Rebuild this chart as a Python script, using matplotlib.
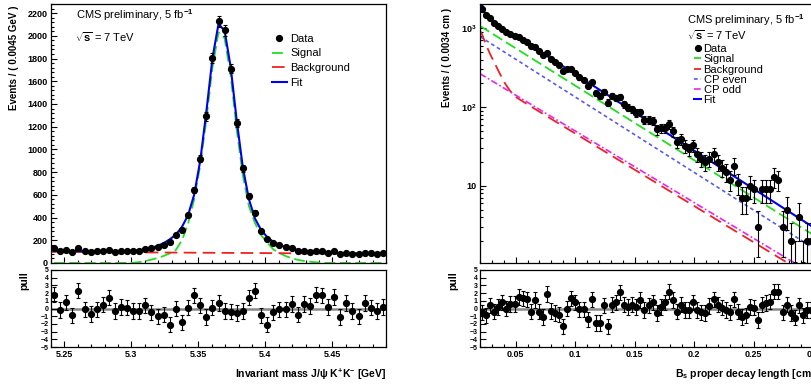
import numpy as np
import matplotlib
matplotlib.use('Agg')
import matplotlib.pyplot as plt
from matplotlib.ticker import MultipleLocator, FixedLocator, FixedFormatter, LogLocator, NullFormatter, FuncFormatter

plt.rcParams['font.family'] = ['Liberation Sans', 'DejaVu Sans']
plt.rcParams['font.weight'] = 'bold'
plt.rcParams['mathtext.fontset'] = 'custom'
plt.rcParams['mathtext.rm'] = 'Liberation Sans'
plt.rcParams['mathtext.it'] = 'Liberation Sans:italic'
plt.rcParams['mathtext.bf'] = 'Liberation Sans:bold'

# ---- invariant mass fit (left) ----
mass_range = (5.24, 5.49)
mass_counts = [130, 107, 113, 95, 128, 103, 97, 103, 109, 118,
               101, 106, 107, 107, 110, 122, 128, 142, 162, 183,
               249, 287, 423, 641, 918, 1290, 1806, 2126, 2047, 1712,
               1235, 832, 590, 444, 281, 209, 179, 159, 140, 134,
               105, 110, 101, 110, 107, 91, 102, 77, 92, 82,
               75, 90, 84, 80, 84]
mass_pull = [1.8, -0.2, 0.8, -0.9, 2.3, -0.1, -0.7, -0.1, 0.5, 1.4,
             -0.3, 0.2, 0.1, -0.3, -0.3, 0.4, -0.5, -1.0, -0.8, -2.1,
             0.0, -1.8, 0.1, 1.7, 0.4, -1.1, 0.1, 0.7, -0.3, -0.4,
             -0.6, -0.3, 1.4, 2.3, -0.9, -2.1, -0.5, -0.1, -0.1, 0.6,
             -0.8, 0.6, 0.3, 1.8, 1.7, 0.2, 1.5, -1.1, 0.7, -0.3,
             -1.0, 0.7, 0.1, -0.3, 0.2]
mass_fit = [108, 107, 106, 105, 104, 104, 104, 104, 104, 104,
            104, 104, 106, 109, 113, 118, 132, 152, 175, 208,
            250, 318, 420, 600, 900, 1330, 1800, 2105, 2045, 1725,
            1250, 840, 560, 390, 290, 228, 186, 160, 141, 127,
            114, 104, 98, 94, 91, 89, 88, 87, 86, 85,
            84, 84, 83, 83, 82]
mass_signal = [0, 0, 0, 0, 0, 0, 0, 0, 0, 0,
               0, 0, 0, 2, 8, 18, 30, 44, 62, 85,
               115, 200, 345, 560, 860, 1260, 1720, 2030, 1980, 1650,
               1170, 770, 500, 350, 245, 180, 120, 88, 62, 42,
               28, 18, 12, 6, 2, 0, 0, 0, 0, 0,
               0, 0, 0, 0, 0]
mass_bkg_x = [5.24, 5.49]
mass_bkg = [98, 81]

# ---- proper decay length fit (right) ----
ct_range = (0.02, 0.30)
ct_counts = [1737, 1479, 1333, 1161, 1065, 991, 891, 849, 793, 764,
             713, 668, 593, 584, 508, 455, 484, 405, 369, 338,
             285, 303, 303, 273, 239, 222, 187, 208, 152, 140,
             157, 114, 137, 130, 134, 109, 98, 94, 84, 86,
             69, 69, 67, 52, 54, 54, 61, 49, 36, 39,
             32, 29, 33, 25, 22, 20, 22, 25, 20, 17,
             15, 12, 18, 11, 7, 7, 10, 9, 3, 9,
             9, 9, 13, 12, 3, 5, 2, 1, 4, 1,
             2, 2]
ct_pull = [-0.5, -0.9, 0.4, -0.4, 0.2, 0.8, 0.0, 0.6, 0.6, 1.5,
           1.3, 1.2, -0.4, 1.1, -0.4, -1.1, 1.9, -0.3, -0.6, -0.8,
           -2.3, 0.0, 1.3, 0.8, -0.1, -0.1, -1.4, 1.2, -1.9, -1.9,
           0.4, -2.3, 0.5, 0.8, 2.1, 0.5, 0.2, 0.5, 0.2, 1.1,
           -0.2, 0.4, 0.8, -0.6, 0.2, 0.8, 2.2, 1.1, -0.4, 0.5,
           -0.2, -0.2, 0.8, -0.2, -0.5, -0.6, 0.3, 1.2, 0.5, 0.1,
           -0.2, -0.5, 1.2, -0.4, -1.1, -0.9, 0.2, 0.1, -1.5, 0.5,
           0.7, 0.9, 2.2, 2.2, -0.5, 0.5, -0.6, -1.2, 0.4, -0.9,
           -0.2, -0.2]
ct_fit_x = [0.020, 0.0217, 0.0251, 0.0285, 0.0319, 0.0354, 0.0388, 0.0422,
            0.0456, 0.0490, 0.0524, 0.0558, 0.0592, 0.0627, 0.300]
ct_fit = [1900, 1758, 1514, 1318, 1175, 1059, 966, 891,
          832, 776, 724, 679, 638, 603, 3.0]
ct_sig_x = [0.02, 0.30]
ct_signal = [1070, 2.4]
ct_even_x = [0.02, 0.30]
ct_even = [783, 1.64]
ct_odd_x = [0.02, 0.30]
ct_odd = [265, 0.76]
ct_bkg_x = [0.020, 0.0215, 0.025, 0.0285, 0.0312, 0.0340, 0.0368, 0.0410,
            0.0452, 0.0508, 0.0645, 0.300]
ct_bkg = [930, 851, 620, 470, 389, 320, 263, 200, 161, 132, 98, 0.67]

C_SIG = '#22dd22'
C_BKG = '#ee2222'
C_FIT = '#0000ee'
C_EVEN = '#5a5aee'
C_ODD = '#ee22ee'

W, H = 812, 390


def px_box(x0, y0, x1, y1):
    return [x0 / W, 1 - y1 / H, (x1 - x0) / W, (y1 - y0) / H]


def centers(rng, n):
    edges = np.linspace(rng[0], rng[1], n + 1)
    return 0.5 * (edges[:-1] + edges[1:])


def style(ax):
    ax.tick_params(which='both', direction='in', top=False, right=False,
                   width=0.8, colors='black')
    ax.tick_params(which='major', length=4.5)
    ax.tick_params(which='minor', length=2.3)
    for s in ax.spines.values():
        s.set_linewidth(0.9)


def pull_panel(ax, x, pulls, rng):
    style(ax)
    ax.axhline(0, color='#888888', lw=1.8, zorder=1)
    ax.errorbar(x, pulls, yerr=np.ones(len(pulls)), fmt='o', ms=4.2, color='black',
                elinewidth=0.8, capsize=1.3, capthick=0.8, zorder=3)
    ax.set_xlim(*rng)
    ax.set_ylim(-5, 5)
    ax.yaxis.set_major_locator(FixedLocator(range(-5, 6)))
    ax.tick_params(axis='y', labelsize=5, pad=1.5)
    ax.tick_params(axis='x', labelsize=6.5, pad=2)
    ax.xaxis.set_major_formatter(FuncFormatter(lambda v, p: f'{v:g}'))


fig = plt.figure(figsize=(W / 100, H / 100), dpi=100)

# ================= left: invariant mass =================
ax1 = fig.add_axes(px_box(51, 4, 386, 263))
ax1p = fig.add_axes(px_box(51, 270, 386, 347))
xm = centers(mass_range, len(mass_counts))
cm = np.array(mass_counts, dtype=float)

style(ax1)
ax1.plot(xm, mass_signal, color=C_SIG, lw=1.3, dashes=(6, 2.5), label='Signal', zorder=2)
ax1.plot(mass_bkg_x, mass_bkg, color=C_BKG, lw=1.3, dashes=(7, 3.5), label='Background', zorder=2)
ax1.plot(xm, mass_fit, color=C_FIT, lw=1.5, label='Fit', zorder=3)
eb = ax1.errorbar(xm, cm, yerr=np.sqrt(cm), fmt='o', ms=4.2, color='black',
                  elinewidth=0.8, capsize=1.3, capthick=0.8, zorder=4)
ax1.set_xlim(*mass_range)
ax1.set_ylim(0, 2280)
ax1.xaxis.set_major_locator(MultipleLocator(0.05))
ax1.xaxis.set_minor_locator(MultipleLocator(0.01))
ax1.yaxis.set_major_locator(MultipleLocator(200))
ax1.yaxis.set_minor_locator(MultipleLocator(40))
ax1.tick_params(axis='x', labelbottom=False)
ax1.tick_params(axis='y', labelsize=6.5, pad=2.5)

h = ax1.get_legend_handles_labels()[0]
ax1.legend([eb.lines[0], h[0], h[1], h[2]], ['Data', 'Signal', 'Background', 'Fit'],
           loc='upper left', bbox_to_anchor=(0.66, 0.885), frameon=False,
           prop={'size': 8, 'weight': 'normal'}, handlelength=1.3,
           handletextpad=0.35, labelspacing=0.42, borderpad=0, borderaxespad=0)

pull_panel(ax1p, xm, mass_pull, mass_range)
ax1p.xaxis.set_major_locator(MultipleLocator(0.05))
ax1p.xaxis.set_minor_locator(MultipleLocator(0.01))

fig.text(76 / W, 1 - 15 / H, 'CMS preliminary, 5 fb$^{-1}$', fontsize=8,
         fontweight='normal', va='center', ha='left')
fig.text(75 / W, 1 - 37 / H, r'$\sqrt{\mathrm{s}}$ = 7 TeV', fontsize=8,
         fontweight='normal', va='center', ha='left')
fig.text(14 / W, 1 - 6 / H, 'Events / ( 0.0045 GeV )', rotation=90,
         fontsize=7, va='top', ha='center')
fig.text(24 / W, 1 - 271 / H, 'pull', rotation=90, fontsize=7.5,
         va='top', ha='center')
fig.text(386 / W, 1 - 374 / H,
         r'Invariant mass J/ψ K$^{\mathbf{+}}$K$^{\mathbf{-}}$ [GeV]',
         fontsize=7.5, va='center', ha='right')

# ================= right: proper decay length =================
ax2 = fig.add_axes(px_box(480, 4, 813, 263))
ax2p = fig.add_axes(px_box(480, 270, 813, 347))
xc = centers(ct_range, len(ct_counts))
cc = np.array(ct_counts, dtype=float)

style(ax2)
ax2.set_yscale('log')
ax2.plot(ct_sig_x, ct_signal, color=C_SIG, lw=1.3, dashes=(6, 2.5), label='Signal', zorder=2)
ax2.plot(ct_bkg_x, ct_bkg, color=C_BKG, lw=1.3, dashes=(7, 3.5), label='Background', zorder=2)
ax2.plot(ct_even_x, ct_even, color=C_EVEN, lw=1.2, dashes=(2.2, 1.8), label='CP even', zorder=2)
ax2.plot(ct_odd_x, ct_odd, color=C_ODD, lw=1.2, dashes=(4, 1.5, 1, 1.5), label='CP odd', zorder=2)
ax2.plot(ct_fit_x, ct_fit, color=C_FIT, lw=1.5, label='Fit', zorder=3)
lo = np.minimum(np.sqrt(cc), cc * 0.999)
eb2 = ax2.errorbar(xc, cc, yerr=[lo, np.sqrt(cc)], fmt='o', ms=4.2, color='black',
                   elinewidth=0.8, capsize=1.3, capthick=0.8, zorder=4)
ax2.set_xlim(*ct_range)
ax2.set_ylim(1.05, 2030)
ax2.xaxis.set_major_locator(MultipleLocator(0.05))
ax2.xaxis.set_minor_locator(MultipleLocator(0.01))
ax2.yaxis.set_major_locator(FixedLocator([10, 100, 1000]))
ax2.yaxis.set_major_formatter(FixedFormatter(['10', r'$\mathbf{10^{2}}$', r'$\mathbf{10^{3}}$']))
ax2.yaxis.set_minor_locator(LogLocator(base=10, subs=np.arange(2, 10)))
ax2.yaxis.set_minor_formatter(NullFormatter())
ax2.tick_params(axis='x', labelbottom=False)
ax2.tick_params(axis='y', labelsize=6.5, pad=2.5)

h2 = ax2.get_legend_handles_labels()[0]
ax2.legend([eb2.lines[0], h2[0], h2[1], h2[2], h2[3], h2[4]],
           ['Data', 'Signal', 'Background', 'CP even', 'CP odd', 'Fit'],
           loc='upper left', bbox_to_anchor=(0.643, 0.845), frameon=False,
           prop={'size': 8, 'weight': 'normal'}, handlelength=0.65,
           handletextpad=0.2, labelspacing=0.02, borderpad=0, borderaxespad=0)

pull_panel(ax2p, xc, ct_pull, ct_range)
ax2p.xaxis.set_major_locator(MultipleLocator(0.05))
ax2p.xaxis.set_minor_locator(MultipleLocator(0.01))

fig.text(687 / W, 1 - 20 / H, 'CMS preliminary, 5 fb$^{-1}$', fontsize=8,
         fontweight='normal', va='center', ha='left')
fig.text(687 / W, 1 - 35 / H, r'$\sqrt{\mathrm{s}}$ = 7 TeV', fontsize=8,
         fontweight='normal', va='center', ha='left')
fig.text(447 / W, 1 - 8 / H, 'Events / ( 0.0034 cm )', rotation=90,
         fontsize=7, va='top', ha='center')
fig.text(453 / W, 1 - 271 / H, 'pull', rotation=90, fontsize=7.5,
         va='top', ha='center')
fig.text(815 / W, 1 - 374 / H, r'B$_{\mathbf{s}}$ proper decay length [cm]',
         fontsize=7.5, va='center', ha='right')

fig.savefig('out.png', dpi=100)
